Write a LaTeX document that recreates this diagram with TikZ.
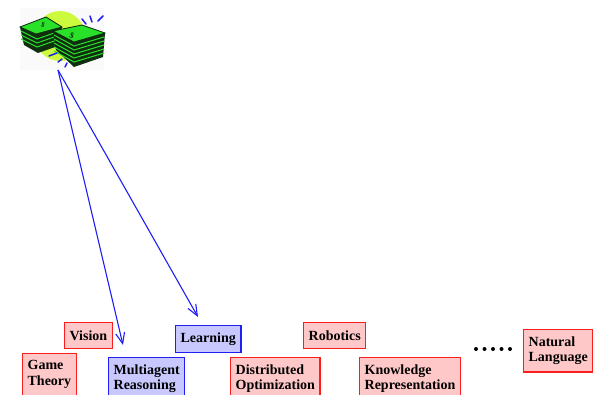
\documentclass[tikz,border=0pt]{standalone}
\usepackage{fontspec}
\setmainfont{Liberation Serif}
\usetikzlibrary{arrows.meta}

\definecolor{boxred}{RGB}{250,30,30}
\definecolor{fillred}{RGB}{255,200,200}
\definecolor{boxblue}{RGB}{30,30,245}
\definecolor{fillblue}{RGB}{200,200,255}
\definecolor{billdark}{RGB}{15,45,15}
\definecolor{billgreen}{RGB}{40,225,40}
\definecolor{blob}{RGB}{205,250,60}

\begin{document}
\begin{tikzpicture}[x=1pt,y=-1pt,
    area/.style={draw=boxred,fill=fillred,line width=1.3pt,anchor=north west,
      align=left,inner xsep=5pt,inner ysep=7pt,minimum height=26pt,
      font=\fontsize{14}{15.5}\selectfont\bfseries},
    bluearea/.style={area,draw=boxblue,fill=fillblue},
    link/.style={boxblue,line width=1.1pt,-{Straight Barb[length=11pt,width=9pt]}}]
        \useasboundingbox (0,0) rectangle (601,394);
        \clip (0,0) rectangle (601,394);
        % money clip art
        \begin{scope}
          \fill[black!2] (20,8) rectangle (104,70);
          \fill[blob] (60,36) ellipse (25 and 25);
          % left stack
          \fill[billdark] (20,27) -- (46,17) -- (62,27) -- (58,46) -- (38,53) -- (24,45) -- cycle;
          \foreach \d in {4,8,12} {
            \draw[billgreen,line width=1pt] (21,27+\d) -- (37,35+\d) -- (60,27+\d);
          }
          \fill[billgreen,draw=billdark,line width=0.8pt] (20,27) -- (46,17) -- (62,27) -- (36,34) -- cycle;
          \node[billdark,font=\bfseries\fontsize{7}{7}\selectfont,rotate=-20,inner sep=0pt] (dollarA) at (43,25) {\$};
          % right stack
          \fill[billdark] (53,31) -- (82,25) -- (105,33) -- (103,57) -- (74,67) -- (56,50) -- cycle;
          \foreach \d in {4,8,12,16,20} {
            \draw[billgreen,line width=1pt] (54,31+\d) -- (74,42+\d) -- (104,33+\d);
          }
          \fill[billgreen,draw=billdark,line width=0.8pt] (53,31) -- (82,25) -- (105,33) -- (74,42) -- cycle;
          \node[billdark,font=\bfseries\fontsize{8}{8}\selectfont,rotate=-20,inner sep=0pt] (dollarB) at (72,36) {\$};
          % sparkles
          \foreach \a/\b/\c/\e in {82/19/86/24, 90/16/92/22, 98/21/103/16,
                                    49/56/57/53, 58/62/62/59, 65/67/67/63} {
            \draw[boxblue,line width=1.5pt,line cap=round] (\a,\b) -- (\c,\e);
          }
        \end{scope}
        \coordinate (money) at (58,70);

        % research areas
        \node[area] (vision) at (64,322) {Vision};
        \node[area] (game) at (22,353) {Game\\Theory};
        \node[bluearea] (multi) at (108,357) {Multiagent\\Reasoning};
        \node[bluearea] (learn) at (175,325) {Learning};
        \node[area] (distopt) at (230,357) {Distributed\\Optimization};
        \node[area] (robot) at (303,322) {Robotics};
        \node[area] (know) at (359,357) {Knowledge\\Representation};
        \node[area] (natlang) at (523,329) {Natural\\Language};
        \foreach \x in {0,...,4} {
          \fill (476+8.5*\x,349) circle (2);
        }

        % funding arrows
        \coordinate (tipA) at (123,345);
        \coordinate (tipB) at (198,317);
        \draw[link] (money) -- (tipA);
        \draw[link] (money) -- (tipB);
\end{tikzpicture}
\end{document}
